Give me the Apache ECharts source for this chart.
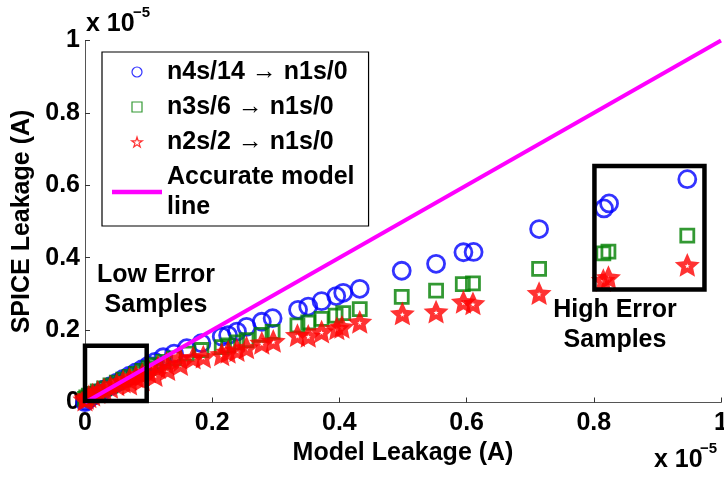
<!DOCTYPE html>
<html><head><meta charset="utf-8">
<script src="https://cdn.jsdelivr.net/npm/echarts@6/dist/echarts.min.js"></script>
<style>html,body{margin:0;padding:0;background:#fff}#c{width:724px;height:477px}</style>
</head><body><div id="c"></div>
<script>
// ---- data (units of 1e-5 A) ----
const seriesNames = ['n4s/14 \u2192 n1s/0', 'n3s/6 \u2192 n1s/0', 'n2s/2 \u2192 n1s/0', 'Accurate model\nline'];
const xTicks = [0, 0.2, 0.4, 0.6, 0.8, 1];
const yTicks = [0, 0.2, 0.4, 0.6, 0.8, 1];
const n4sData = [
  [0.947,0.617],[0.824,0.550],[0.816,0.536],[0.714,0.479],[0.611,0.416],[0.595,0.415],
  [0.552,0.383],[0.498,0.364],[0.432,0.314],[0.406,0.303],[0.395,0.294],[0.372,0.280],
  [0.351,0.265],[0.335,0.256],[0.295,0.233],[0.278,0.223],[0.254,0.209],[0.239,0.196],
  [0.225,0.186],[0.215,0.182],[0.183,0.164],[0.160,0.150],[0.140,0.135],[0.123,0.125],
  [0.110,0.112],[0.100,0.102],[0.090,0.092],[0.080,0.083],[0.070,0.074],[0.060,0.065],
  [0.050,0.055],[0.040,0.045],[0.030,0.036],[0.020,0.026],[0.012,0.018],[0.006,0.011],
  [0.002,0.005],[0.000,0.001]
];
const n3sData = [
  [0.947,0.461],[0.823,0.417],[0.815,0.412],[0.714,0.369],[0.610,0.329],[0.594,0.327],
  [0.552,0.309],[0.498,0.292],[0.432,0.258],[0.406,0.247],[0.394,0.240],[0.372,0.231],
  [0.351,0.221],[0.334,0.213],[0.295,0.195],[0.278,0.187],[0.254,0.172],[0.239,0.166],
  [0.225,0.158],[0.215,0.153],[0.183,0.145],[0.160,0.135],[0.140,0.122],[0.123,0.112],
  [0.110,0.103],[0.100,0.095],[0.090,0.087],[0.080,0.079],[0.070,0.071],[0.060,0.063],
  [0.050,0.055],[0.040,0.047],[0.030,0.039],[0.020,0.031],[0.012,0.024],[0.006,0.019],
  [0.002,0.014],[0.000,0.010]
];
const n2sData = [
  [0.947,0.380],[0.823,0.346],[0.815,0.338],[0.714,0.302],[0.610,0.274],[0.595,0.278],
  [0.552,0.251],[0.499,0.246],[0.432,0.223],[0.404,0.209],[0.396,0.205],[0.372,0.196],
  [0.351,0.184],[0.334,0.186],[0.296,0.170],[0.278,0.165],[0.254,0.152],[0.239,0.145],
  [0.225,0.140],[0.215,0.133],[0.186,0.127],[0.170,0.124],[0.149,0.123],[0.128,0.109],
  [0.115,0.098],[0.100,0.085],[0.090,0.078],[0.080,0.072],[0.070,0.065],[0.060,0.058],
  [0.050,0.050],[0.040,0.043],[0.030,0.036],[0.020,0.029],[0.012,0.022],[0.006,0.017],
  [0.002,0.013],[0.000,0.008],[0.110,0.076],[0.130,0.092],[0.150,0.106],[0.090,0.064],
  [0.070,0.052]
];
const accurateLine = [[0, 0], [1, 1]];
const lowErrorBox = [0, 0.004, 0.097, 0.157];   // x0, y0, x1, y1
const highErrorBox = [0.801, 0.312, 0.974, 0.653];

// ---- helpers ----
function boxPath(b) { return [[b[0],b[1]],[b[2],b[1]],[b[2],b[3]],[b[0],b[3]],[b[0],b[1]]]; }
function starRing(R, ratio, dir) {
  let d = '';
  for (let k = 0; k < 10; k++) {
    const i = dir > 0 ? k : (10 - k) % 10;
    const r = i % 2 === 0 ? R : R * ratio;
    const a = -Math.PI / 2 + i * Math.PI / 5;
    d += (k === 0 ? 'M' : 'L') + (50 + r * Math.cos(a)).toFixed(2) + ' ' + (50 + r * Math.sin(a)).toFixed(2) + ' ';
  }
  return d + 'Z ';
}
const STAR_SOLID = 'path://' + starRing(50, 0.47, 1) + starRing(10, 0.4, -1);
const STAR_OUTLINE = 'path://' + starRing(50, 0.382, 1);
const SQUARE = 'path://M0 0L10 0L10 10L0 10Z';
const BAR = 'path://M0 0L50 0L50 4.5L0 4.5Z';
const FONT = "'Liberation Sans', Arial, Helvetica, sans-serif";
const txt = { fontFamily: FONT, fontWeight: 'bold', color: '#000' };

const chart = echarts.init(document.getElementById('c'), null, { renderer: 'canvas' });
const axisCommon = {
  type: 'value', min: 0, max: 1, interval: 0.2,
  axisLine: { show: true, lineStyle: { color: '#555', width: 1 } },
  axisTick: { show: true, inside: true, length: 5, lineStyle: { color: '#333', width: 1 } },
  splitLine: { show: false },
  axisLabel: Object.assign({ fontSize: 25, showMinLabel: true, showMaxLabel: true, hideOverlap: false }, txt),
  nameLocation: 'middle',
  nameTextStyle: Object.assign({ fontSize: 25 }, txt)
};
chart.setOption({
  animation: false,
  backgroundColor: '#fff',
  grid: { left: 85, right: 3, top: 40.5, bottom: 74.5, containLabel: false, outerBoundsMode: 'none' },
  xAxis: Object.assign({}, axisCommon, {
    name: 'Model Leakage (A)', nameGap: 34,
    axisLabel: Object.assign({}, axisCommon.axisLabel, { margin: 8 })
  }),
  yAxis: Object.assign({}, axisCommon, {
    name: 'SPICE Leakage (A)', nameGap: 45,
    axisLabel: Object.assign({}, axisCommon.axisLabel, { margin: 5 })
  }),
  legend: {
    orient: 'vertical', left: 102, top: 52,
    backgroundColor: '#fff', borderColor: '#000', borderWidth: 1.2,
    padding: [5, 14, 4, 10], itemGap: 5, itemWidth: 50, itemHeight: 10, itemTextGap: 5,
    symbolKeepAspect: true,
    textStyle: Object.assign({ fontSize: 25, lineHeight: 30 }, txt),
    data: [
      { name: seriesNames[0], icon: 'circle', itemStyle: { color: 'rgba(0,0,0,0)', borderColor: '#0000ff', borderWidth: 1.2 } },
      { name: seriesNames[1], icon: SQUARE, itemStyle: { color: 'rgba(0,0,0,0)', borderColor: '#008000', borderWidth: 1.2 } },
      { name: seriesNames[2], icon: STAR_OUTLINE, itemStyle: { color: 'rgba(0,0,0,0)', borderColor: '#ff0000', borderWidth: 1.2 } },
      { name: seriesNames[3], icon: BAR, itemStyle: { color: '#ff00ff', borderWidth: 0 } }
    ]
  },
  series: [
    { name: seriesNames[0], type: 'scatter', data: n4sData, symbol: 'circle', symbolSize: 17, clip: false,
      itemStyle: { color: 'rgba(0,0,0,0)', borderColor: '#0000ff', borderWidth: 2.8 } },
    { name: seriesNames[1], type: 'scatter', data: n3sData, symbol: 'rect', symbolSize: 13, clip: false,
      itemStyle: { color: 'rgba(0,0,0,0)', borderColor: '#008000', borderWidth: 2.8 } },
    { name: seriesNames[2], type: 'scatter', data: n2sData, symbol: STAR_SOLID, symbolSize: 25, symbolKeepAspect: true, clip: false,
      itemStyle: { color: '#ff0000', borderWidth: 0 } },
    { name: seriesNames[3], type: 'line', data: accurateLine, symbol: 'none', clip: false,
      lineStyle: { color: '#ff00ff', width: 4 }, itemStyle: { color: '#ff00ff' } },
    { name: 'lowBox', type: 'line', data: boxPath(lowErrorBox), symbol: 'none', clip: false, z: 5,
      lineStyle: { color: '#000', width: 4.5, join: 'miter', cap: 'square' } },
    { name: 'highBox', type: 'line', data: boxPath(highErrorBox), symbol: 'none', clip: false, z: 5,
      lineStyle: { color: '#000', width: 4.5, join: 'miter', cap: 'square' } }
  ],
  graphic: [
    { type: 'text', left: 86, top: 12, style: { text: 'x 10', font: "bold 25px " + FONT, fill: '#000' } },
    { type: 'text', left: 133, top: 5, style: { text: '\u22125', font: "bold 15px " + FONT, fill: '#000' } },
    { type: 'text', left: 654, top: 448, style: { text: 'x 10', font: "bold 25px " + FONT, fill: '#000' } },
    { type: 'text', left: 700, top: 441, style: { text: '\u22125', font: "bold 15px " + FONT, fill: '#000' } },
    { type: 'text', x: 156, y: 290, style: { text: 'Low Error\nSamples', font: "bold 25px " + FONT, fill: '#000', align: 'center', verticalAlign: 'middle', lineHeight: 30 } },
    { type: 'text', x: 615, y: 325, style: { text: 'High Error\nSamples', font: "bold 25px " + FONT, fill: '#000', align: 'center', verticalAlign: 'middle', lineHeight: 30 } }
  ]
});
</script></body></html>
